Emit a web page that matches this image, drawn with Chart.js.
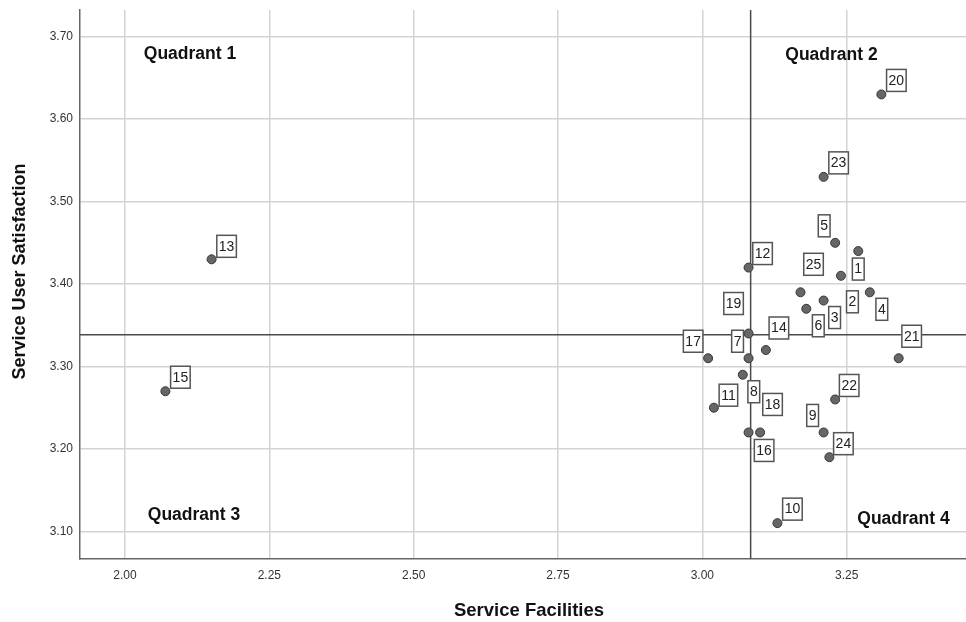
<!DOCTYPE html>
<html><head><meta charset="utf-8">
<script src="https://cdn.jsdelivr.net/npm/chart.js@4/dist/chart.umd.min.js"></script>
<style>html,body{margin:0;padding:0;background:#fff;overflow:hidden;} canvas{display:block;}</style>
</head><body>
<canvas id="c" width="966" height="622"></canvas>
<script>
// ---- data ----
const pointIds     = [1,2,3,4,5,6,7,8,9,10,11,12,13,14,15,16,17,18,19,20,21,22,23,24,25];
const facilities   = [3.27,3.24,3.21,3.29,3.23,3.18,3.08,3.07,3.21,3.13,3.02,3.08,2.15,3.11,2.07,3.10,3.01,3.08,3.08,3.31,3.34,3.23,3.21,3.22,3.17];
const satisfaction = [3.44,3.41,3.38,3.39,3.45,3.37,3.31,3.29,3.22,3.11,3.25,3.42,3.43,3.32,3.27,3.22,3.31,3.22,3.34,3.63,3.31,3.26,3.53,3.19,3.39];
const xTickValues  = [2.00,2.25,2.50,2.75,3.00,3.25];
const yTickValues  = [3.10,3.20,3.30,3.40,3.50,3.60,3.70];
const quadrantNames = ['Quadrant 1','Quadrant 2','Quadrant 3','Quadrant 4'];
const quadrantX     = [2.1126,3.2236,2.1195,3.3483];
const quadrantY     = [3.679,3.678,3.1202,3.1154];
const xTitle = 'Service Facilities';
const yTitle = 'Service User Satisfaction';

// label box nudges (pixels, style only)
const labelDx = [0,11.5,11,12,-11,12,-11,11,-11,15,14.5,14,15,13,15,4,-15,24,-15,15,13,14,15,14,13];
const labelDy = [18,26,17,17,-17,17,-17,17,-17,-14,-12.5,-14,-13,-22,-14,18,-17,-28,-30,-14,-22,-14,-14,-13.5,-28];

const meanX = facilities.reduce((a,b)=>a+b,0)/facilities.length;
const meanY = satisfaction.reduce((a,b)=>a+b,0)/satisfaction.length;

const FONT = "'Liberation Sans', Arial, sans-serif";

const overlay = {
  id: 'overlay',
  beforeDatasetsDraw(chart){
    const {ctx, chartArea:a, scales:{x,y}} = chart;
    ctx.save();
    ctx.strokeStyle = '#4a4a4a';
    ctx.lineWidth = 1.5;
    const px = x.getPixelForValue(meanX);
    const py = y.getPixelForValue(meanY);
    ctx.beginPath();
    ctx.moveTo(px, a.top); ctx.lineTo(px, a.bottom);
    ctx.moveTo(a.left, py); ctx.lineTo(a.right, py);
    ctx.stroke();
    ctx.restore();
  },
  afterDatasetsDraw(chart){
    const {ctx, scales:{x,y}} = chart;
    ctx.save();
    ctx.font = '14px ' + FONT;
    ctx.textAlign = 'center';
    ctx.textBaseline = 'middle';
    pointIds.forEach((id,i)=>{
      const px = x.getPixelForValue(facilities[i]);
      const py = y.getPixelForValue(satisfaction[i]);
      const t = String(id);
      const w = ctx.measureText(t).width + 4;
      const h = 22;
      const cx = px + labelDx[i], cy = py + labelDy[i];
      ctx.fillStyle = '#fff';
      ctx.fillRect(cx-w/2, cy-h/2, w, h);
      ctx.strokeStyle = '#555';
      ctx.lineWidth = 1.5;
      ctx.strokeRect(cx-w/2, cy-h/2, w, h);
      ctx.fillStyle = '#222';
      ctx.fillText(t, cx, cy+0.5);
    });
    ctx.font = 'bold 17.5px ' + FONT;
    ctx.fillStyle = '#111';
    quadrantNames.forEach((q,i)=>{
      ctx.fillText(q, x.getPixelForValue(quadrantX[i]), y.getPixelForValue(quadrantY[i]));
    });
    ctx.restore();
  },
  afterDraw(chart){
    const {ctx} = chart;
    ctx.save();
    ctx.fillStyle = '#111';
    ctx.textAlign = 'center';
    ctx.textBaseline = 'middle';
    ctx.font = 'bold 18.5px ' + FONT;
    ctx.fillText(xTitle, 529, 611);
    ctx.translate(20.5, 271.5);
    ctx.rotate(-Math.PI/2);
    ctx.font = 'bold 18px ' + FONT;
    ctx.fillText(yTitle, 0, 0);
    ctx.restore();
  }
};

function zeroPad(s){ s.paddingTop = 0; s.paddingBottom = 0; s.paddingLeft = 0; s.paddingRight = 0; }

new Chart(document.getElementById('c'), {
  type: 'scatter',
  data: {
    datasets: [{
      data: facilities.map((v,i)=>({x:v, y:satisfaction[i]})),
      pointRadius: 4.5,
      pointHoverRadius: 4.5,
      backgroundColor: '#666666',
      borderColor: '#383838',
      borderWidth: 1
    }]
  },
  options: {
    responsive: false,
    animation: false,
    events: [],
    layout: { autoPadding: false, padding: { top: 10, right: 0, left: 0, bottom: 0 } },
    plugins: { legend: { display: false }, tooltip: { enabled: false } },
    scales: {
      x: {
        type: 'linear',
        min: 1.9221, max: 3.4566,
        afterFit(s){ s.height = 63; zeroPad(s); },
        afterBuildTicks(s){ s.ticks = xTickValues.map(v=>({value:v})); },
        grid: { color: '#d3d3d3', lineWidth: 1.5, drawTicks: false },
        border: { color: '#666', width: 1.5 },
        ticks: { padding: 9, color: '#333', font: { family: FONT, size: 12 }, callback: v => Number(v).toFixed(2) }
      },
      y: {
        type: 'linear',
        min: 3.0665, max: 3.7324,
        afterFit(s){ s.width = 80; zeroPad(s); },
        afterBuildTicks(s){ s.ticks = yTickValues.map(v=>({value:v})); },
        grid: { color: '#d3d3d3', lineWidth: 1.5, drawTicks: false },
        border: { color: '#666', width: 1.5 },
        ticks: { padding: 7, color: '#333', font: { family: FONT, size: 12 }, callback: v => Number(v).toFixed(2) }
      }
    }
  },
  plugins: [overlay]
});
</script>
</body></html>
